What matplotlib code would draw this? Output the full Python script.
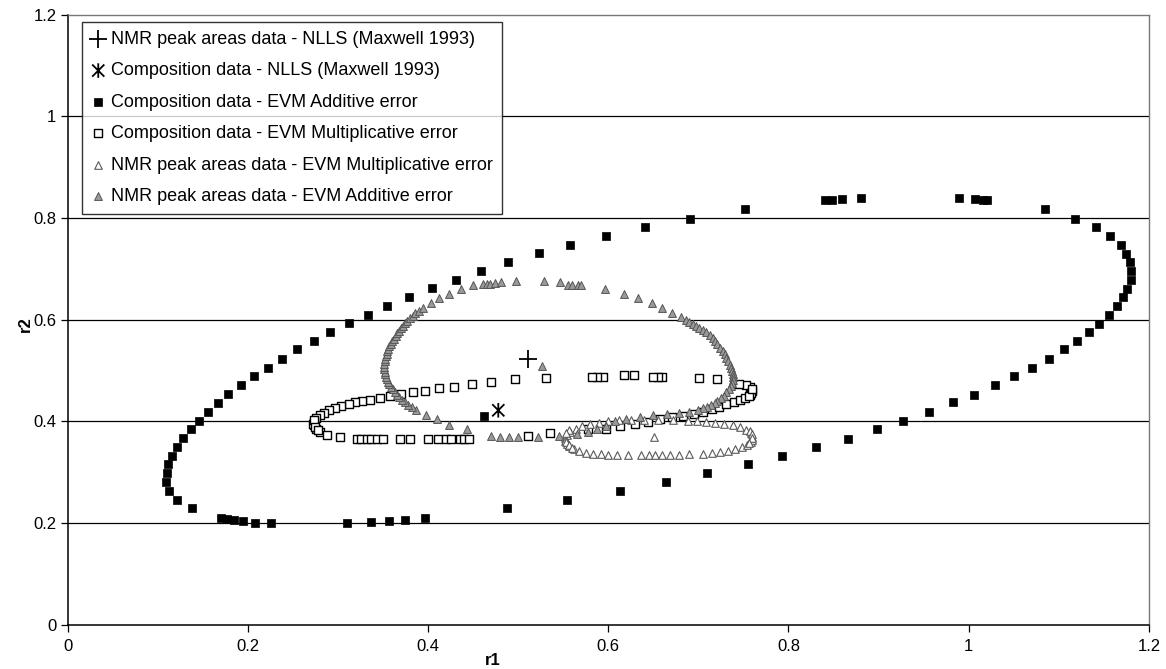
import matplotlib
matplotlib.use("Agg")
import matplotlib.pyplot as plt
from matplotlib.path import Path

plt.rcParams['font.family'] = ['Liberation Sans', 'DejaVu Sans']

# NLLS estimates (Maxwell 1993)
nmr_nlls_x = [0.511]
nmr_nlls_y = [0.522]
comp_nlls_x = [0.478]
comp_nlls_y = [0.422]

# Composition data - EVM Additive error
comp_add_x = [0.379, 0.355, 0.333, 0.312, 0.291, 0.273, 0.255, 0.238, 0.222, 0.207,
              0.193, 0.178, 0.167, 0.156, 0.146, 0.137, 0.128, 0.121, 0.116, 0.112,
              0.110, 0.109, 0.113, 0.122, 0.138, 0.170, 0.177, 0.185, 0.195, 0.208,
              0.226, 0.310, 0.337, 0.357, 0.374, 0.397, 0.488, 0.554, 0.613, 0.664,
              0.710, 0.755, 0.793, 0.830, 0.866, 0.898, 0.927, 0.956, 0.982, 1.006,
              1.029, 1.050, 1.070, 1.089, 1.106, 1.120, 1.134, 1.145, 1.156, 1.164,
              1.171, 1.176, 1.180, 1.180, 1.179, 1.175, 1.169, 1.157, 1.141, 1.118,
              1.085, 1.020, 1.016, 1.007, 0.989, 0.881, 0.859, 0.848, 0.841, 0.752,
              0.691, 0.641, 0.597, 0.558, 0.523, 0.489, 0.459, 0.431, 0.404, 0.462]
comp_add_y = [0.644, 0.628, 0.610, 0.593, 0.576, 0.559, 0.542, 0.523, 0.506, 0.490,
              0.472, 0.454, 0.437, 0.419, 0.401, 0.385, 0.367, 0.350, 0.333, 0.316,
              0.298, 0.282, 0.263, 0.246, 0.229, 0.211, 0.209, 0.207, 0.204, 0.201,
              0.200, 0.200, 0.202, 0.205, 0.207, 0.210, 0.230, 0.246, 0.263, 0.282,
              0.298, 0.316, 0.333, 0.349, 0.366, 0.386, 0.401, 0.418, 0.438, 0.452,
              0.471, 0.489, 0.505, 0.523, 0.542, 0.558, 0.576, 0.591, 0.609, 0.627,
              0.644, 0.661, 0.679, 0.696, 0.713, 0.730, 0.747, 0.764, 0.782, 0.799,
              0.817, 0.835, 0.835, 0.837, 0.839, 0.839, 0.837, 0.835, 0.835, 0.817,
              0.799, 0.783, 0.765, 0.747, 0.731, 0.713, 0.695, 0.679, 0.662, 0.411]

# Composition data - EVM Multiplicative error
comp_mul_x = [0.470, 0.449, 0.429, 0.412, 0.397, 0.383, 0.370, 0.358, 0.347, 0.336,
              0.327, 0.319, 0.312, 0.304, 0.297, 0.290, 0.285, 0.280, 0.276, 0.274,
              0.273, 0.276, 0.280, 0.288, 0.302, 0.321, 0.326, 0.332, 0.337, 0.343,
              0.350, 0.369, 0.380, 0.400, 0.411, 0.420, 0.426, 0.435, 0.440, 0.446,
              0.511, 0.535, 0.577, 0.597, 0.613, 0.630, 0.644, 0.657, 0.671, 0.683,
              0.695, 0.705, 0.715, 0.723, 0.731, 0.739, 0.746, 0.752, 0.757, 0.759,
              0.757, 0.753, 0.745, 0.721, 0.701, 0.660, 0.655, 0.650, 0.629, 0.617,
              0.594, 0.587, 0.582, 0.531, 0.496, 0.272, 0.273, 0.275, 0.278, 0.758,
              0.756, 0.759]
comp_mul_y = [0.477, 0.473, 0.468, 0.465, 0.460, 0.458, 0.454, 0.450, 0.447, 0.443,
              0.440, 0.438, 0.434, 0.431, 0.427, 0.422, 0.417, 0.412, 0.406, 0.399,
              0.393, 0.386, 0.380, 0.373, 0.369, 0.365, 0.365, 0.365, 0.365, 0.365,
              0.365, 0.365, 0.365, 0.365, 0.365, 0.365, 0.365, 0.366, 0.366, 0.366,
              0.371, 0.377, 0.386, 0.386, 0.391, 0.396, 0.399, 0.404, 0.408, 0.411,
              0.415, 0.419, 0.425, 0.429, 0.434, 0.438, 0.442, 0.447, 0.453, 0.460,
              0.467, 0.471, 0.473, 0.483, 0.486, 0.487, 0.487, 0.487, 0.491, 0.491,
              0.488, 0.488, 0.488, 0.486, 0.483, 0.396, 0.403, 0.389, 0.383, 0.456,
              0.450, 0.463]

# NMR peak areas data - EVM Multiplicative error
nmr_mul_x = [0.760, 0.758, 0.753, 0.746, 0.738, 0.728, 0.718, 0.708, 0.698, 0.688,
             0.672, 0.655, 0.640, 0.625, 0.612, 0.600, 0.590, 0.580, 0.571, 0.564,
             0.558, 0.554, 0.552, 0.552, 0.554, 0.557, 0.562, 0.568, 0.575, 0.583,
             0.592, 0.600, 0.610, 0.622, 0.636, 0.645, 0.652, 0.660, 0.668, 0.678,
             0.690, 0.705, 0.715, 0.724, 0.733, 0.741, 0.748, 0.754, 0.758, 0.760,
             0.556, 0.553, 0.553, 0.556, 0.560, 0.757, 0.759, 0.759, 0.756, 0.651]
nmr_mul_y = [0.370, 0.378, 0.384, 0.389, 0.393, 0.396, 0.398, 0.399, 0.400, 0.401,
             0.402, 0.403, 0.403, 0.403, 0.402, 0.400, 0.398, 0.395, 0.391, 0.386,
             0.380, 0.374, 0.368, 0.362, 0.356, 0.351, 0.346, 0.342, 0.339, 0.337,
             0.336, 0.335, 0.335, 0.335, 0.335, 0.335, 0.335, 0.335, 0.335, 0.335,
             0.336, 0.337, 0.338, 0.340, 0.342, 0.345, 0.349, 0.354, 0.359, 0.364,
             0.383, 0.377, 0.359, 0.353, 0.348, 0.381, 0.375, 0.367, 0.357, 0.370]

# NMR peak areas data - EVM Additive error
nmr_add_x = [0.437, 0.450, 0.461, 0.465, 0.469, 0.474, 0.481, 0.498, 0.529, 0.546,
             0.555, 0.560, 0.566, 0.570, 0.596, 0.617, 0.633, 0.648, 0.660, 0.671,
             0.681, 0.686, 0.690, 0.694, 0.697, 0.701, 0.705, 0.709, 0.713, 0.716,
             0.718, 0.721, 0.724, 0.727, 0.729, 0.731, 0.733, 0.735, 0.736, 0.737,
             0.738, 0.738, 0.738, 0.737, 0.736, 0.734, 0.731, 0.728, 0.725, 0.721,
             0.718, 0.714, 0.710, 0.705, 0.700, 0.690, 0.678, 0.665, 0.650, 0.635,
             0.620, 0.608, 0.598, 0.588, 0.578, 0.565, 0.545, 0.522, 0.500, 0.490,
             0.480, 0.470, 0.443, 0.423, 0.410, 0.398, 0.387, 0.382, 0.378, 0.374,
             0.371, 0.368, 0.366, 0.363, 0.361, 0.359, 0.357, 0.356, 0.354, 0.353,
             0.352, 0.352, 0.351, 0.351, 0.351, 0.352, 0.352, 0.353, 0.354, 0.355,
             0.356, 0.357, 0.359, 0.360, 0.362, 0.364, 0.366, 0.368, 0.370, 0.372,
             0.374, 0.377, 0.380, 0.383, 0.386, 0.390, 0.394, 0.403, 0.412, 0.423,
             0.526]
nmr_add_y = [0.661, 0.668, 0.671, 0.671, 0.671, 0.672, 0.674, 0.676, 0.676, 0.674,
             0.669, 0.669, 0.669, 0.669, 0.660, 0.650, 0.642, 0.632, 0.624, 0.614,
             0.606, 0.600, 0.596, 0.592, 0.588, 0.584, 0.580, 0.575, 0.570, 0.564,
             0.558, 0.552, 0.545, 0.538, 0.532, 0.525, 0.519, 0.512, 0.506, 0.500,
             0.493, 0.487, 0.481, 0.475, 0.469, 0.463, 0.457, 0.451, 0.446, 0.441,
             0.437, 0.433, 0.429, 0.426, 0.423, 0.419, 0.416, 0.414, 0.412, 0.409,
             0.405, 0.400, 0.392, 0.385, 0.380, 0.376, 0.372, 0.370, 0.370, 0.370,
             0.370, 0.371, 0.386, 0.394, 0.404, 0.413, 0.422, 0.428, 0.433, 0.438,
             0.443, 0.448, 0.453, 0.458, 0.463, 0.468, 0.473, 0.478, 0.483, 0.488,
             0.493, 0.498, 0.503, 0.508, 0.513, 0.518, 0.523, 0.528, 0.533, 0.538,
             0.543, 0.548, 0.553, 0.558, 0.563, 0.568, 0.573, 0.578, 0.583, 0.588,
             0.593, 0.598, 0.603, 0.608, 0.613, 0.618, 0.623, 0.633, 0.642, 0.650,
             0.509]

labels = ["NMR peak areas data - NLLS (Maxwell 1993)",
          "Composition data - NLLS (Maxwell 1993)",
          "Composition data - EVM Additive error",
          "Composition data - EVM Multiplicative error",
          "NMR peak areas data - EVM Multiplicative error",
          "NMR peak areas data - EVM Additive error"]

ticks = [0, 0.2, 0.4, 0.6, 0.8, 1.0, 1.2]
tick_labels = ["0", "0.2", "0.4", "0.6", "0.8", "1", "1.2"]

# Excel style star: an X crossed by a vertical bar
star = Path([(-1, -1), (1, 1), (-1, 1), (1, -1), (0, -1.2), (0, 1.2)],
            [Path.MOVETO, Path.LINETO, Path.MOVETO, Path.LINETO, Path.MOVETO, Path.LINETO])

fig = plt.figure(figsize=(11.66, 6.69), dpi=100)
ax = fig.add_axes([0.0579, 0.0658, 0.9275, 0.9125])

for yv in ticks[1:-1]:
    ax.axhline(yv, color='black', lw=0.9, zorder=0)

ax.scatter(nmr_nlls_x, nmr_nlls_y, marker='+', s=170, c='black', linewidths=1.3,
           label=labels[0], zorder=3)
ax.scatter(comp_nlls_x, comp_nlls_y, marker=star, s=110, facecolors='none',
           edgecolors='black', linewidths=1.3, label=labels[1], zorder=3)
ax.scatter(comp_add_x, comp_add_y, marker='s', s=36, c='black', linewidths=0.5,
           label=labels[2], zorder=3)
ax.scatter(comp_mul_x, comp_mul_y, marker='s', s=30, facecolors='white',
           edgecolors='black', linewidths=1.0, label=labels[3], zorder=3)
ax.scatter(nmr_mul_x, nmr_mul_y, marker='^', s=30, facecolors='white',
           edgecolors='#5a5a5a', linewidths=0.8, label=labels[4], zorder=3)
ax.scatter(nmr_add_x, nmr_add_y, marker='^', s=32, facecolors='#9a9a9a',
           edgecolors='#555555', linewidths=0.7, label=labels[5], zorder=4)

ax.set_xlim(0, 1.2)
ax.set_ylim(0, 1.2)
ax.set_xticks(ticks)
ax.set_xticklabels(tick_labels)
ax.set_yticks(ticks)
ax.set_yticklabels(tick_labels)
ax.tick_params(axis='both', direction='out', length=5, width=0.9, labelsize=12,
               colors='black')
ax.tick_params(axis='x', pad=5)
ax.tick_params(axis='y', pad=3)

for side in ['left', 'bottom']:
    ax.spines[side].set_color('black')
    ax.spines[side].set_linewidth(1.1)
for side in ['top', 'right']:
    ax.spines[side].set_color('#777777')
    ax.spines[side].set_linewidth(1.0)
    ax.spines[side].set_linestyle((0, (1, 1)))

fig.text(0.423, 0.002, "r1", fontsize=12, fontweight='bold', ha='center', va='bottom')
fig.text(0.022, 0.515, "r2", fontsize=12, fontweight='bold', rotation=90,
         ha='center', va='center')

leg = ax.legend(loc='upper left', bbox_to_anchor=(0.0134, 0.988), borderaxespad=0,
                fontsize=13, frameon=True, fancybox=False, handlelength=0.8,
                handletextpad=0.3, labelspacing=0.8, borderpad=0.5,
                scatterpoints=1)
leg.get_frame().set_edgecolor('black')
leg.get_frame().set_linewidth(1.0)

fig.savefig("out.png", dpi=100)
